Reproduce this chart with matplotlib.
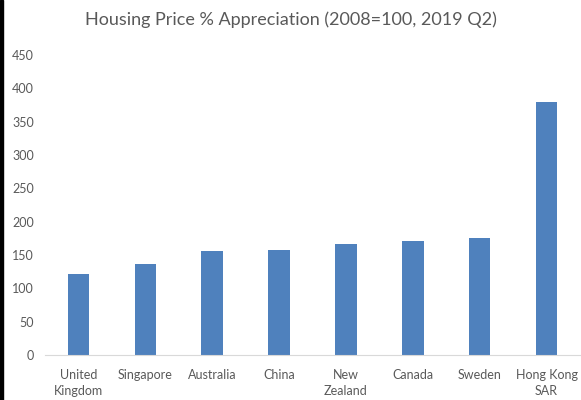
import matplotlib.pyplot as plt
from matplotlib.patches import Rectangle

paises = ['United\nKingdom', 'Singapore', 'Australia', 'China', 'New\nZealand',
          'Canada', 'Sweden', 'Hong Kong\nSAR']
valores = [122, 136, 156, 158, 166, 171, 176, 380]

plt.rcParams['font.family'] = ['Lato', 'DejaVu Sans']

fig = plt.figure(figsize=(5.81, 4.0), dpi=100)
ax = fig.add_axes([45 / 581, 1 - 355 / 400, 535 / 581, 300 / 400])

ax.bar(range(len(paises)), valores, width=0.32, color='#4f81bd')
ax.set_xlim(-0.5, len(paises) - 0.5)
ax.set_ylim(0, 450)
ax.set_yticks(range(0, 451, 50))
ax.set_xticks(range(len(paises)))
ax.set_xticklabels(paises, linespacing=1.4)

for s in ['top', 'right', 'left']:
    ax.spines[s].set_visible(False)
ax.spines['bottom'].set_color('#d9d9d9')
ax.tick_params(axis='both', length=0, colors='#595959', labelsize=9)
ax.tick_params(axis='x', pad=10)
ax.tick_params(axis='y', pad=8)

fig.text(0.5, 1 - 20 / 400, 'Housing Price % Appreciation (2008=100, 2019 Q2)',
         ha='center', va='center', fontsize=13, color='#595959')

# borde negro a la izquierda de la captura
fig.patches.append(Rectangle((0, 0), 3 / 581, 1, transform=fig.transFigure,
                             color='black', zorder=10))

plt.savefig('out.png', dpi=100)
